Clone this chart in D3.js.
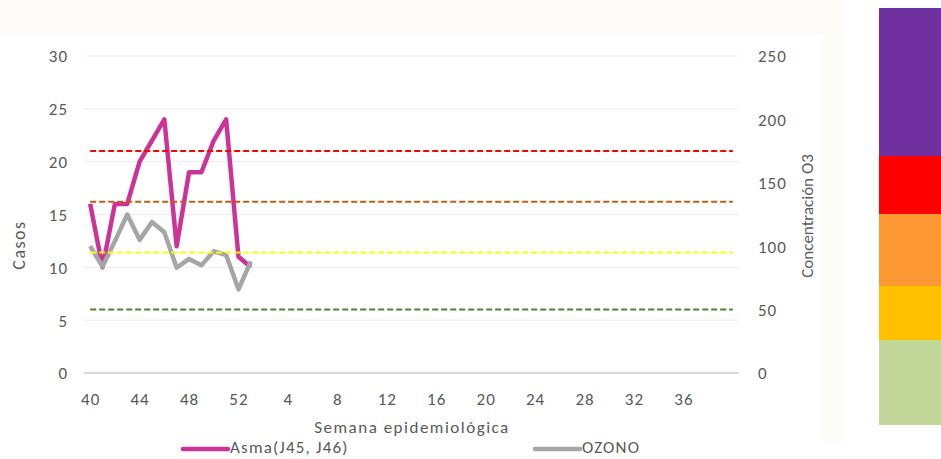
<!DOCTYPE html>
<html>
<head>
<meta charset="utf-8">
<script src="https://cdn.jsdelivr.net/npm/d3@7"></script>
<style>
  body { margin: 0; background: #fff; }
  text { font-family: Carlito, Lato, "Open Sans", sans-serif; fill: #595959; }
</style>
</head>
<body>
<div id="chart"></div>
<script>
// Data
const weeks = ["40","41","42","43","44","45","46","47","48","49","50","51","52",
               "1","2","3","4","5","6","7","8","9","10","11","12","13","14","15","16","17","18","19","20",
               "21","22","23","24","25","26","27","28","29","30","31","32","33","34","35","36","37","38","39","40"];
const asma  = [16, 10, 16, 16, 20, 22, 24, 12, 19, 19, 22, 24, 11, 10];
const ozono = [100, 84, 104, 125, 105, 119, 111, 83, 90, 85, 96, 93, 66, 88];
const leftTicks  = [0, 5, 10, 15, 20, 25, 30];
const rightTicks = [0, 50, 100, 150, 200, 250];
const thresholds = [175, 135, 95, 50];
const seriesNames = ["Asma(J45, J46)", "OZONO"];
const bandNames = ["muy mala", "mala", "regular", "aceptable", "buena"];

// Styles
const thresholdColors = ["#ff0000", "#c55a11", "#ffff00", "#548235"];
const seriesColors = ["#cc3399", "#a6a6a6"];
const bandColors = ["#7030a0", "#ff0000", "#ff9933", "#ffc000", "#c4d79b"];

const W = 941, H = 459;
const plot = { left: 84, right: 739, top: 56, bottom: 373 };

const svg = d3.select("#chart").append("svg")
  .attr("width", W).attr("height", H)
  .attr("viewBox", [0, 0, W, H]);

// faint background pieces
svg.append("rect").attr("x", 0).attr("y", 0).attr("width", 845).attr("height", 35)
  .attr("fill", "#fefcf9");
svg.append("rect").attr("x", 822).attr("y", 35).attr("width", 23).attr("height", 407)
  .attr("fill", "#fdfdf8");

const x = d3.scalePoint()
  .domain(d3.range(weeks.length))
  .range([plot.left, plot.right])
  .padding(0.5);

const yL = d3.scaleLinear().domain([0, 30]).range([plot.bottom, plot.top]);
const yR = d3.scaleLinear().domain([0, 250]).range([plot.bottom, plot.top]);

// gridlines
svg.append("g")
  .selectAll("line")
  .data(leftTicks)
  .join("line")
    .attr("x1", plot.left).attr("x2", plot.right)
    .attr("y1", d => yL(d)).attr("y2", d => yL(d))
    .attr("stroke", d => d === 0 ? "#d9d9d9" : "#ececec")
    .attr("stroke-width", d => d === 0 ? 2 : 1);

// left axis
svg.append("g")
  .attr("transform", `translate(${plot.left - 16},0)`)
  .call(d3.axisLeft(yL).tickValues(leftTicks).tickSize(0).tickPadding(0))
  .call(g => g.select(".domain").remove())
  .selectAll("text").attr("font-size", "17px").attr("dy", "0.35em")
  .attr("letter-spacing", "1px");

// right axis
svg.append("g")
  .attr("transform", `translate(${plot.right + 19},0)`)
  .call(d3.axisRight(yR).tickValues(rightTicks).tickSize(0).tickPadding(0))
  .call(g => g.select(".domain").remove())
  .selectAll("text").attr("font-size", "17px").attr("dy", "0.35em")
  .attr("letter-spacing", "1px");

// x axis
svg.append("g")
  .attr("transform", `translate(0,${plot.bottom + 20})`)
  .call(d3.axisBottom(x)
    .tickValues(d3.range(0, weeks.length - 1, 4))
    .tickFormat(i => weeks[i])
    .tickSize(0).tickPadding(0))
  .call(g => g.select(".domain").remove())
  .selectAll("text").attr("font-size", "17px")
  .attr("letter-spacing", "1px");

// axis titles
svg.append("text")
  .attr("transform", "translate(19,245) rotate(-90)")
  .attr("text-anchor", "middle").attr("dy", "0.35em")
  .attr("font-size", "18px").attr("letter-spacing", "1.5px")
  .text("Casos");

svg.append("text")
  .attr("transform", "translate(807,216) rotate(-90)")
  .attr("text-anchor", "middle").attr("dy", "0.35em")
  .attr("font-size", "17px")
  .text("Concentración O3");

svg.append("text")
  .attr("x", 412).attr("y", 427)
  .attr("text-anchor", "middle").attr("dy", "0.35em")
  .attr("font-size", "17px").attr("letter-spacing", "1.5px")
  .text("Semana epidemiológica");

// series
const lineL = d3.line().x((d, i) => x(i)).y(d => yL(d));
const lineR = d3.line().x((d, i) => x(i)).y(d => yR(d));

svg.append("path")
  .datum(asma)
  .attr("d", lineL)
  .attr("fill", "none")
  .attr("stroke", seriesColors[0])
  .attr("stroke-width", 4.5)
  .attr("stroke-linejoin", "round");

svg.append("path")
  .datum(ozono)
  .attr("d", lineR)
  .attr("fill", "none")
  .attr("stroke", seriesColors[1])
  .attr("stroke-width", 4.5)
  .attr("stroke-linejoin", "round");

// threshold lines (right axis)
svg.append("g")
  .selectAll("line")
  .data(thresholds)
  .join("line")
    .attr("x1", x(0)).attr("x2", x(weeks.length - 1))
    .attr("y1", d => yR(d)).attr("y2", d => yR(d))
    .attr("stroke", (d, i) => thresholdColors[i])
    .attr("stroke-width", 2)
    .attr("stroke-dasharray", "6,3");

// legend
const legend = svg.append("g");
const legendX = [183, 535];
seriesNames.forEach((name, i) => {
  legend.append("line")
    .attr("x1", legendX[i]).attr("x2", legendX[i] + 45)
    .attr("y1", 449).attr("y2", 449)
    .attr("stroke", seriesColors[i]).attr("stroke-width", 4.5)
    .attr("stroke-linecap", "round");
  legend.append("text")
    .attr("x", legendX[i] + 47).attr("y", 447).attr("dy", "0.35em")
    .attr("font-size", "17px").attr("letter-spacing", "1.2px")
    .text(name);
});

// colour scale bar on the right
const bandEdges = [8, 156, 214, 286, 340, 425];
svg.append("g")
  .selectAll("rect")
  .data(bandNames)
  .join("rect")
    .attr("x", 879)
    .attr("y", (d, i) => bandEdges[i])
    .attr("width", W - 879)
    .attr("height", (d, i) => bandEdges[i + 1] - bandEdges[i])
    .attr("fill", (d, i) => bandColors[i]);
</script>
</body>
</html>
